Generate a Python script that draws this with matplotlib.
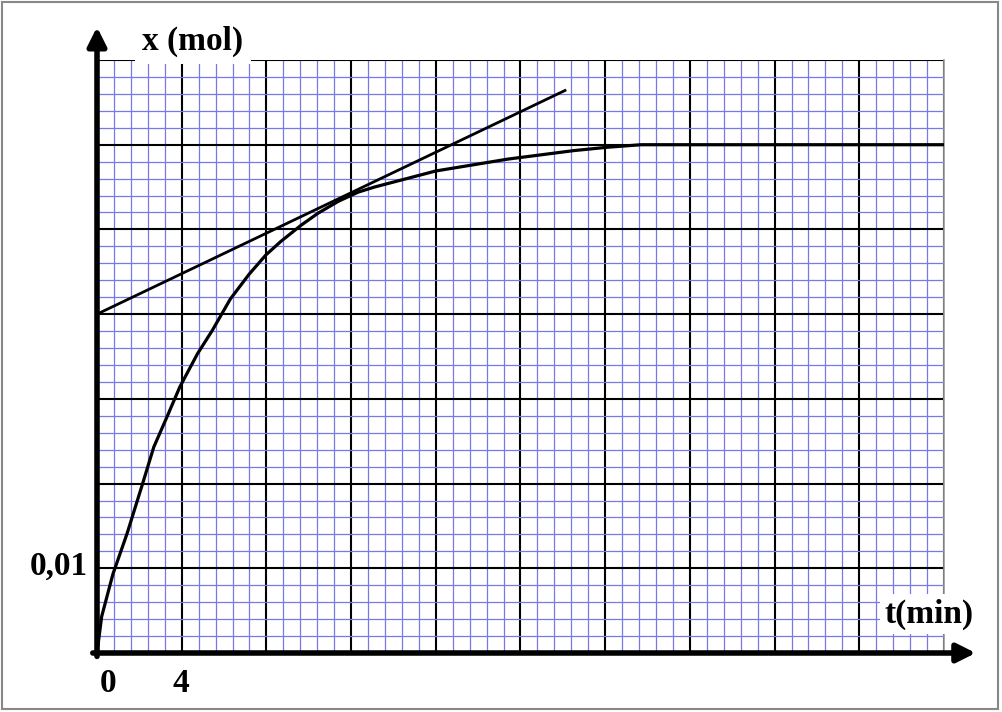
import matplotlib.pyplot as plt
from matplotlib.patches import Rectangle
from matplotlib.ticker import MultipleLocator

t_min = [0, 0.22, 0.75, 1.42, 2.13, 2.68, 3.31, 3.91, 4.74, 5.45, 6.3, 7.18,
         7.98, 8.69, 9.64, 10.43, 11.38, 12.33, 13.1, 16.0, 19.4, 22.5, 24.1,
         25.7, 28.2, 32, 36, 40]
x_mol = [0, 0.0043, 0.0093, 0.0141, 0.0198, 0.0243, 0.0279, 0.0314, 0.0353,
         0.0381, 0.0418, 0.0447, 0.0470, 0.0486, 0.0505, 0.0519, 0.0533, 0.0544,
         0.0550, 0.0569, 0.0583, 0.0593, 0.0597, 0.0600, 0.0600, 0.0600, 0.0600,
         0.0600]

# tangent drawn at about t = 12 min
tangent_t = [0, 22.1]
tangent_x = [0.0400, 0.0664]

W, H = 1003, 712


def fx(px):
    return px / W


def fy(py):
    return 1 - py / H


fig = plt.figure(figsize=(W / 100, H / 100), dpi=100)
ax = fig.add_axes([fx(97), fy(653), (944 - 97) / W, (653 - 60) / H])
ax.set_xlim(0, 40)
ax.set_ylim(0, 0.07)

# graph paper
ax.xaxis.set_major_locator(MultipleLocator(4))
ax.xaxis.set_minor_locator(MultipleLocator(0.8))
ax.yaxis.set_major_locator(MultipleLocator(0.01))
ax.yaxis.set_minor_locator(MultipleLocator(0.002))
ax.grid(which="minor", color="#7878e6", lw=0.9)
ax.grid(which="major", color="black", lw=1.5)
ax.tick_params(which="both", length=0, labelbottom=False, labelleft=False)
for side in ["top", "bottom", "left"]:
    ax.spines[side].set_visible(False)
ax.spines["right"].set_color("#999999")
ax.spines["right"].set_linewidth(1.2)

ax.plot(t_min, x_mol, color="black", lw=2.3, zorder=4)
ax.plot(tangent_t, tangent_x, color="black", lw=2.0, zorder=4)

# axes with arrows
arrow = dict(arrowstyle="-|>", lw=4, color="black", mutation_scale=28, shrinkA=0, shrinkB=0)
ax.annotate("", xy=(41.5, 0), xytext=(-0.2, 0), arrowprops=arrow, annotation_clip=False, zorder=5)
ax.annotate("", xy=(0, 0.0739), xytext=(0, -0.0004), arrowprops=arrow, annotation_clip=False, zorder=5)

font = dict(family="Liberation Serif", weight="bold", size=24)
fig.text(fx(193), fy(41), "x (mol)", ha="center", va="center", zorder=6,
         bbox=dict(facecolor="white", edgecolor="none", pad=5), **font)
fig.text(fx(929), fy(614), "t(min)", ha="center", va="center", zorder=6,
         bbox=dict(facecolor="white", edgecolor="none", pad=3), **font)
fig.text(fx(88), fy(566), "0,01", ha="right", va="center", **font)
fig.text(fx(108), fy(684), "0", ha="center", va="center", **font)
fig.text(fx(181), fy(684), "4", ha="center", va="center", **font)

# frame around the picture
fig.patches.append(Rectangle((fx(2), fy(709)), fx(996), (709 - 2) / H, transform=fig.transFigure,
                             fill=False, edgecolor="#888888", lw=1.5))

fig.savefig("out.png", dpi=100)
